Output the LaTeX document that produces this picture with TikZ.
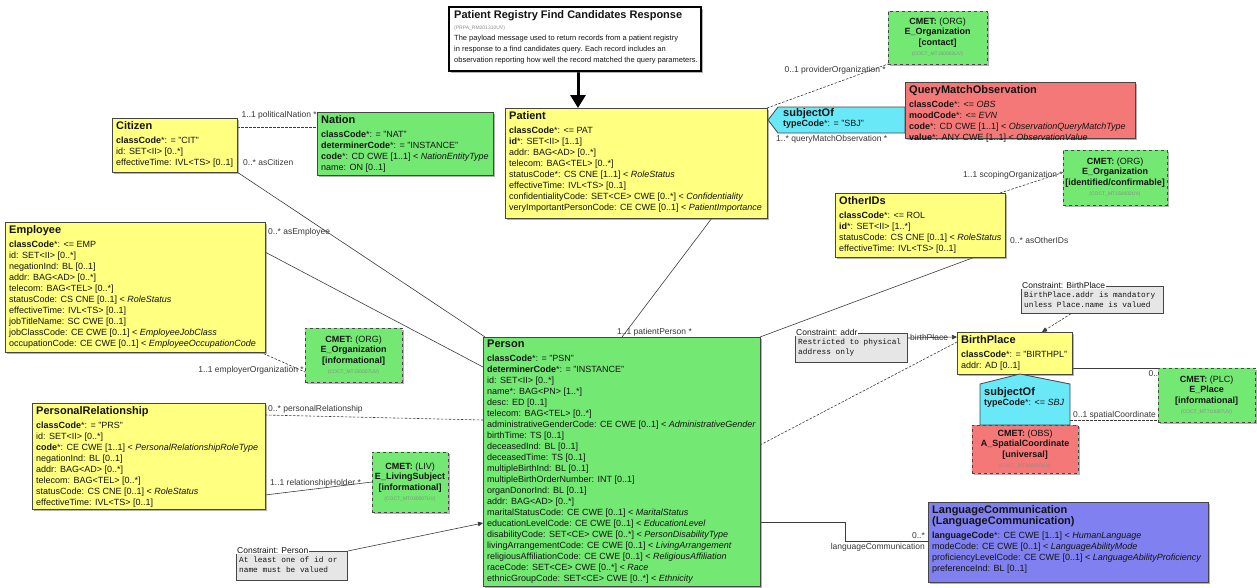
\documentclass[tikz,border=0pt]{standalone}
\usepackage{fontspec}
\setmainfont{Liberation Sans}
\setmonofont{Liberation Mono}
\usetikzlibrary{shadows,arrows.meta,calc,backgrounds}
\definecolor{roleY}{RGB}{255,255,128}
\definecolor{entG}{RGB}{115,232,115}
\definecolor{actR}{RGB}{245,120,120}
\definecolor{partC}{RGB}{105,232,248}
\definecolor{langB}{RGB}{128,128,240}
\definecolor{consG}{RGB}{230,230,230}
\definecolor{bord}{RGB}{70,70,70}
\definecolor{txt}{RGB}{20,20,20}
\definecolor{codeG}{RGB}{140,140,140}
\definecolor{lineC}{RGB}{60,60,60}
\newcommand{\clsT}[1]{{\fontsize{11}{12}\selectfont\bfseries #1}}
\newcommand{\cmetcode}[1]{{\fontsize{5}{6}\selectfont\color{codeG}#1}}
\tikzset{
 cls/.style={draw=bord, line width=0.8pt, anchor=north west, inner sep=0pt, outer sep=0pt,
   drop shadow={shadow xshift=1.5pt, shadow yshift=-1.5pt, fill=black!60, opacity=0.5}},
 cmet/.style={cls, dashed, align=center, text=txt, font=\fontsize{9}{10.5}\selectfont},
 body/.style={anchor=north west, inner sep=0pt, align=left, text=txt, font=\fontsize{9}{11}\selectfont},
 lbl/.style={inner sep=0pt, text=txt!85, font=\fontsize{8.5}{10}\selectfont},
 conn/.style={draw=lineC, line width=0.6pt},
 scop/.style={draw=lineC, line width=0.6pt, dash pattern=on 2.5pt off 1.5pt},
 cons/.style={draw=bord, line width=0.8pt, fill=consG, anchor=north west, inner sep=0pt},
 mono/.style={anchor=north west, inner sep=0pt, align=left, text=txt, font=\fontsize{7.8}{9.5}\ttfamily},
 ctitle/.style={anchor=west, inner sep=1pt, fill=white, text=txt, font=\fontsize{8.5}{10}\selectfont},
 tip/.style={-{Triangle[length=5pt,width=4.5pt]}},
}
\begin{document}
\begin{tikzpicture}[x=1pt,y=-1pt]
\useasboundingbox (0,0) rectangle (1257,587);

% ---------- header
\node[draw=black, line width=2pt, fill=white, anchor=north west, minimum width=252pt, minimum height=64pt, inner sep=0pt,
  drop shadow={shadow xshift=2pt,shadow yshift=-2pt,fill=black!60,opacity=0.5}] (hdr) at (448,6) {};
\node[anchor=north west, inner sep=0pt, align=left, text=txt, font=\fontsize{7.5}{11.2}\selectfont] (hdrtxt) at ([xshift=6pt,yshift=-4pt]hdr.north west)
 {{\fontsize{11}{12}\selectfont\bfseries Patient Registry Find Candidates Response}\\
  {\fontsize{5}{6}\selectfont\color{codeG}(PRPA\_RM201310UV)}\\
  The payload message used to return records from a patient registry\\
  in response to a find candidates query. Each record includes an\\
  observation reporting how well the record matched the query parameters.};

% ---------- Citizen
\node[cls, fill=roleY, minimum width=125pt, minimum height=54pt] (citizen) at (112,118) {};
\node[body] at ([xshift=4pt,yshift=-3pt]citizen.north west) {\clsT{Citizen}\\[3pt]
\textbf{classCode}*: = "CIT"\\
id: SET<II> [0..*]\\
effectiveTime: IVL<TS> [0..1]};

% ---------- Nation
\node[cls, fill=entG, minimum width=176pt, minimum height=63pt] (nation) at (317,112) {};
\node[body] at ([xshift=4pt,yshift=-3pt]nation.north west) {\clsT{Nation}\\[3pt]
\textbf{classCode}*: = "NAT"\\
\textbf{determinerCode}*: = "INSTANCE"\\
\textbf{code}*: CD CWE [1..1] < \textit{NationEntityType}\\
name: ON [0..1]};

% ---------- Patient
\node[cls, fill=roleY, minimum width=262pt, minimum height=110pt] (patient) at (505,108) {};
\node[body] at ([xshift=4pt,yshift=-3pt]patient.north west) {\clsT{Patient}\\[3pt]
\textbf{classCode}*: <= PAT\\
\textbf{id}*: SET<II> [1..1]\\
addr: BAG<AD> [0..*]\\
telecom: BAG<TEL> [0..*]\\
statusCode*: CS CNE [1..1] < \textit{RoleStatus}\\
effectiveTime: IVL<TS> [0..1]\\
confidentialityCode: SET<CE> CWE [0..*] < \textit{Confidentiality}\\
veryImportantPersonCode: CE CWE [0..1] < \textit{PatientImportance}};

% ---------- subjectOf (query match)
\filldraw[fill=partC, draw=bord, line width=0.8pt] (768,120) -- (778,107) -- (905,107) -- (905,133) -- (778,133) -- cycle;
\node[body] (subj1) at (783,108) {\clsT{subjectOf}\\[-1pt]\textbf{typeCode}*: = "SBJ"};

% ---------- QueryMatchObservation
\node[cls, fill=actR, minimum width=230pt, minimum height=56pt] (qmo) at (905,82) {};
\node[body] at ([xshift=4pt,yshift=-3pt]qmo.north west) {\clsT{QueryMatchObservation}\\[3pt]
\textbf{classCode}*: <= \textit{OBS}\\
\textbf{moodCode}*: <= \textit{EVN}\\
\textbf{code}*: CD CWE [1..1] < \textit{ObservationQueryMatchType}\\
\textbf{value}*: ANY CWE [1..1] < \textit{ObservationValue}};

% ---------- CMETs
\node[cmet, fill=entG, minimum width=99pt, minimum height=53pt] (cmetA) at (888,11)
 {\textbf{CMET:} (ORG)\\ \textbf{E\_Organization}\\ \textbf{[contact]}\\ \cmetcode{(COCT\_MT150003UV)}};
\node[cmet, fill=entG, minimum width=104pt, minimum height=55pt] (cmetB) at (1063,150)
 {\textbf{CMET:} (ORG)\\ \textbf{E\_Organization}\\ \textbf{[identified/confirmable]}\\ \cmetcode{(COCT\_MT150002UV)}};
\node[cmet, fill=entG, minimum width=97pt, minimum height=54pt] (cmetEmp) at (305,328)
 {\textbf{CMET:} (ORG)\\ \textbf{E\_Organization}\\ \textbf{[informational]}\\ \cmetcode{(COCT\_MT150007UV)}};
\node[cmet, fill=entG, minimum width=76pt, minimum height=60pt] (livsub) at (372,452)
 {\textbf{CMET:} (LIV)\\ \textbf{E\_LivingSubject}\\ \textbf{[informational]}\\ \cmetcode{(COCT\_MT030007UV)}};
\node[cmet, fill=actR, minimum width=106pt, minimum height=48pt] (spatial) at (972,425)
 {\textbf{CMET:} (OBS)\\ \textbf{A\_SpatialCoordinate}\\ \textbf{[universal]}\\ \cmetcode{(COCT\_MT960000UV)}};
\node[cmet, fill=entG, minimum width=97pt, minimum height=54pt] (eplace) at (1158,368)
 {\textbf{CMET:} (PLC)\\ \textbf{E\_Place}\\ \textbf{[informational]}\\ \cmetcode{(COCT\_MT710007UV)}};

% ---------- OtherIDs
\node[cls, fill=roleY, minimum width=170pt, minimum height=64pt] (otherids) at (835,193) {};
\node[body] at ([xshift=4pt,yshift=-3pt]otherids.north west) {\clsT{OtherIDs}\\[3pt]
\textbf{classCode}*: <= ROL\\
\textbf{id}*: SET<II> [1..*]\\
statusCode: CS CNE [0..1] < \textit{RoleStatus}\\
effectiveTime: IVL<TS> [0..1]};

% ---------- Employee
\node[cls, fill=roleY, minimum width=260pt, minimum height=130pt] (employee) at (5,222) {};
\node[body] at ([xshift=4pt,yshift=-3pt]employee.north west) {\clsT{Employee}\\[3pt]
\textbf{classCode}*: <= EMP\\
id: SET<II> [0..*]\\
negationInd: BL [0..1]\\
addr: BAG<AD> [0..*]\\
telecom: BAG<TEL> [0..*]\\
statusCode: CS CNE [0..1] < \textit{RoleStatus}\\
effectiveTime: IVL<TS> [0..1]\\
jobTitleName: SC CWE [0..1]\\
jobClassCode: CE CWE [0..1] < \textit{EmployeeJobClass}\\
occupationCode: CE CWE [0..1] < \textit{EmployeeOccupationCode}};

% ---------- PersonalRelationship
\node[cls, fill=roleY, minimum width=233pt, minimum height=106pt] (persrel) at (32,403) {};
\node[body] at ([xshift=4pt,yshift=-3pt]persrel.north west) {\clsT{PersonalRelationship}\\[3pt]
\textbf{classCode}*: = "PRS"\\
id: SET<II> [0..*]\\
\textbf{code}*: CE CWE [1..1] < \textit{PersonalRelationshipRoleType}\\
negationInd: BL [0..1]\\
addr: BAG<AD> [0..*]\\
telecom: BAG<TEL> [0..*]\\
statusCode: CS CNE [0..1] < \textit{RoleStatus}\\
effectiveTime: IVL<TS> [0..1]};

% ---------- Person
\node[cls, fill=entG, minimum width=277pt, minimum height=249pt] (person) at (483,337) {};
\node[body] at ([xshift=4pt,yshift=-3pt]person.north west) {\clsT{Person}\\[3pt]
\textbf{classCode}*: = "PSN"\\
\textbf{determinerCode}*: = "INSTANCE"\\
id: SET<II> [0..*]\\
name*: BAG<PN> [1..*]\\
desc: ED [0..1]\\
telecom: BAG<TEL> [0..*]\\
administrativeGenderCode: CE CWE [0..1] < \textit{AdministrativeGender}\\
birthTime: TS [0..1]\\
deceasedInd: BL [0..1]\\
deceasedTime: TS [0..1]\\
multipleBirthInd: BL [0..1]\\
multipleBirthOrderNumber: INT [0..1]\\
organDonorInd: BL [0..1]\\
addr: BAG<AD> [0..*]\\
maritalStatusCode: CE CWE [0..1] < \textit{MaritalStatus}\\
educationLevelCode: CE CWE [0..1] < \textit{EducationLevel}\\
disabilityCode: SET<CE> CWE [0..*] < \textit{PersonDisabilityType}\\
livingArrangementCode: CE CWE [0..1] < \textit{LivingArrangement}\\
religiousAffiliationCode: CE CWE [0..1] < \textit{ReligiousAffiliation}\\
raceCode: SET<CE> CWE [0..*] < \textit{Race}\\
ethnicGroupCode: SET<CE> CWE [0..*] < \textit{Ethnicity}};

% ---------- BirthPlace
\node[cls, fill=roleY, minimum width=115pt, minimum height=42pt] (birth) at (957,332) {};
\node[body] at ([xshift=4pt,yshift=-3pt]birth.north west) {\clsT{BirthPlace}\\[3pt]
\textbf{classCode}*: = "BIRTHPL"\\
addr: AD [0..1]};

% subjectOf (spatial)
\filldraw[fill=partC, draw=bord, line width=0.8pt] (980,384) -- (1020,374) -- (1070,384) -- (1070,425) -- (980,425) -- cycle;
\node[body] (subj2) at (984,387) {\clsT{subjectOf}\\[-1pt]\textbf{typeCode}*: <= \textit{SBJ}};
\coordinate (subj2r) at (1070,420);

% ---------- LanguageCommunication
\node[cls, fill=langB, minimum width=280pt, minimum height=80pt] (lang) at (928,502) {};
\node[body] at ([xshift=4pt,yshift=-3pt]lang.north west) {\clsT{LanguageCommunication}\\
\clsT{(LanguageCommunication)}\\[3pt]
\textbf{languageCode}*: CE CWE [1..1] < \textit{HumanLanguage}\\
modeCode: CE CWE [0..1] < \textit{LanguageAbilityMode}\\
proficiencyLevelCode: CE CWE [0..1] < \textit{LanguageAbilityProficiency}\\
preferenceInd: BL [0..1]};

% ---------- constraints
\node[cons, minimum width=111pt, minimum height=29pt] (consP) at (236,551) {};
\node[ctitle] at ([yshift=1pt]consP.north west) {Constraint: Person};
\node[mono] at ([xshift=3pt,yshift=-6pt]consP.north west) {At least one of id or\\name must be valued};

\node[cons, minimum width=112pt, minimum height=29pt] (consA) at (795,333) {};
\node[ctitle] at ([yshift=1pt]consA.north west) {Constraint: addr};
\node[mono] at ([xshift=3pt,yshift=-6pt]consA.north west) {Restricted to physical\\address only};

\node[cons, minimum width=142pt, minimum height=27pt] (consB) at (1021,286) {};
\node[ctitle] at ([yshift=1pt]consB.north west) {Constraint: BirthPlace};
\node[mono] at ([xshift=3pt,yshift=-6pt]consB.north west) {BirthPlace.addr is mandatory\\unless Place.name is valued};

% ---------- connectors and labels (behind boxes)
\begin{scope}[on background layer]
\fill[white] (0,0) rectangle (1257,587);
\draw[line width=3pt, -{Triangle[length=13pt,width=15pt]}] ([xshift=3pt]hdr.south) -- ([xshift=3pt]hdr.south |- patient.north);

\draw[scop] ([yshift=-9pt]citizen.north east) -- ([yshift=-9pt]citizen.north east -| nation.west);
\node[lbl, anchor=south east] at ([yshift=-7pt]nation.north west) {1..1 politicalNation *};

\draw[conn] (citizen.south east) -- ([xshift=2pt]person.north west);
\node[lbl, anchor=west] at (243,162) {0..* asCitizen};

\draw[conn] ([yshift=-30pt]employee.north east) -- ([yshift=-30pt]person.north west);
\node[lbl, anchor=west] at (268,232) {0..* asEmployee};

\draw[scop] ([xshift=-5pt]employee.south east) -- ([yshift=10pt]cmetEmp.south west);
\node[lbl, anchor=east] at ([xshift=-1pt,yshift=12pt]cmetEmp.south west) {1..1 employerOrganization *};

\draw[conn] ([xshift=-55pt]patient.south east) -- ([xshift=139pt]person.north west);
\node[lbl, anchor=south west] at ([xshift=134pt,yshift=1pt]person.north west) {1..1 patientPerson *};

\draw[scop] (patient.north east) -- (cmetA.south west);
\node[lbl, anchor=east] at ([xshift=-2pt,yshift=-6pt]cmetA.south west) {0..1 providerOrganization *};

\node[lbl, anchor=north west] at (776,135) {1..* queryMatchObservation *};

\draw[conn] ([xshift=-30pt]otherids.south east) -- (person.north east);
\node[lbl, anchor=west] at (1010,240) {0..* asOtherIDs};

\draw[scop] ([xshift=-5pt]otherids.north east) -- ([yshift=5pt]cmetB.west);
\node[lbl, anchor=east] at (1063,175) {1..1 scopingOrganization *};

\draw[scop] ([yshift=-12pt]persrel.north east) -- ([yshift=-83pt]person.north west);
\node[lbl, anchor=west] at (268,409) {0..* personalRelationship};

\draw[conn] ([yshift=-92pt]persrel.north east) -- ([yshift=-30pt]livsub.north west);
\node[lbl, anchor=west] at (270,483) {1..1 relationshipHolder *};

\draw[conn, tip] (consP.north east) -- ([yshift=-186pt]person.north west);

\draw[scop] ([yshift=-108pt]person.north east) -- ([yshift=-10pt]birth.north west);
\node[lbl, anchor=west] at (910,337) {birthPlace};
\draw[conn, tip] ([yshift=-5pt]consA.north east) -- ([yshift=-5pt]birth.north west);

\draw[scop, tip] ([xshift=-93pt]consB.south east) -- ([xshift=85pt]birth.north west);

\draw[conn] ([yshift=-36pt]birth.north east) -- (eplace.north west);
\node[lbl, anchor=north east] at ([xshift=5pt,yshift=-2pt]eplace.north west) {0..1};

\draw[scop] (subj2r) -- (subj2r -| eplace.west);
\node[lbl, anchor=south west] at ([xshift=3pt,yshift=1pt]subj2r) {0..1 spatialCoordinate};

\draw[conn] ([yshift=-185pt]person.north east) -- ++(85,0) |- ([yshift=-39pt]lang.north west);
\node[lbl, anchor=south east] at ([xshift=-3pt,yshift=-37pt]lang.north west) {0..*};
\node[lbl, anchor=north east] at ([xshift=-3pt,yshift=-41pt]lang.north west) {languageCommunication};
\end{scope}
\end{tikzpicture}
\end{document}
